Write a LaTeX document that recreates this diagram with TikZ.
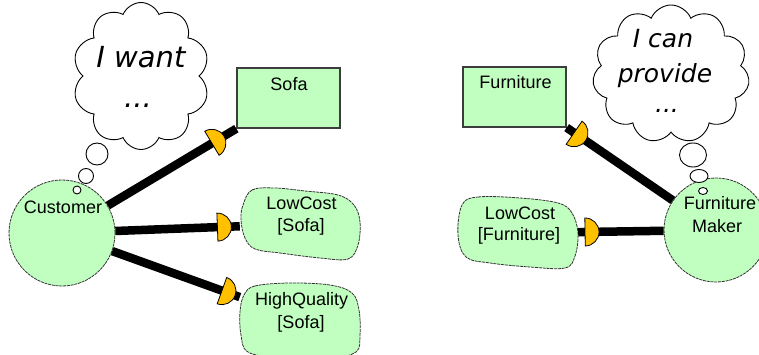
\documentclass[tikz,border=0pt]{standalone}
\usepackage{fontspec}
\newfontfamily\labfont{Liberation Sans}
\newfontfamily\thfont{DejaVu Sans}
\usetikzlibrary{shapes.geometric,shapes.symbols}
\definecolor{agreen}{RGB}{192,255,192}
\definecolor{discy}{RGB}{255,192,0}
\definecolor{edgegray}{RGB}{60,60,60}
\tikzset{
 actor/.style={circle, fill=agreen, draw=black!80, line width=0.8pt, dash pattern=on 3pt off 0.8pt, inner sep=0pt},
 resbox/.style={rectangle, fill=agreen, draw=edgegray, line width=1.3pt, inner sep=0pt, minimum width=103pt, minimum height=60pt},
 goalarea/.style={rectangle, inner sep=0pt, minimum width=120pt, minimum height=72pt},
 blob/.style={fill=agreen, draw=black!80, line width=0.8pt, dash pattern=on 3pt off 0.8pt},
 lab/.style={font=\labfont\fontsize{18}{22}\selectfont, anchor=base, inner sep=0pt, text=black},
 thoughtbig/.style={font=\thfont\itshape\fontsize{29}{34}\selectfont, anchor=base, inner sep=0pt},
 thoughtsm/.style={font=\thfont\itshape\fontsize{25}{30}\selectfont, anchor=base, inner sep=0pt},
 thcloud/.style={cloud, draw=black, fill=white, line width=0.9pt, cloud ignores aspect, cloud puff arc=135, inner sep=0pt},
 bubble/.style={ellipse, draw=black, fill=white, line width=0.9pt, inner sep=0pt},
 conn/.style={line width=8.5pt, black},
 halfdisc/.pic={\draw[fill=discy, draw=black, line width=0.8pt, solid] (0pt,-14pt) arc[start angle=-90, end angle=90, radius=14pt] -- cycle;}
}
\begin{document}
\begin{tikzpicture}[x=1pt,y=-1pt]
\useasboundingbox (0,0) rectangle (759,355);
\clip (0,0) rectangle (759,355);
% thought clouds
\node[thcloud, cloud puffs=10, minimum width=137pt, minimum height=147pt] (cloudL) at (141,76) {};
\node[thcloud, cloud puffs=11, minimum width=157pt, minimum height=138pt] (cloudR) at (671,74) {};
% actors
\node[actor, minimum size=106pt] (cust) at (62,233) {};
\node[actor, minimum size=104pt] (maker) at (716,230) {};
% thought bubbles
\node[bubble, minimum width=22pt, minimum height=22pt] (bL1) at (97,154) {};
\node[bubble, minimum width=15pt, minimum height=15pt] (bL2) at (86,176) {};
\node[bubble, minimum width=8pt, minimum height=8pt] (bL3) at (77,190) {};
\node[bubble, minimum width=27pt, minimum height=24pt] (bR1) at (693,155) {};
\node[bubble, minimum width=18pt, minimum height=13pt] (bR2) at (699,176) {};
\node[bubble, minimum width=9pt, minimum height=7pt] (bR3) at (703,191) {};
% resources
\node[resbox] (sofa) at (288.5,98) {};
\node[resbox] (furn) at (514.5,97) {};
% softgoal areas
\node[goalarea] (lcs) at (300,224) {};
\node[goalarea] (hq) at (300,319) {};
\node[goalarea, minimum height=73pt] (lcf) at (518,233) {};
\draw[blob] plot[smooth cycle, tension=0.6] coordinates {(243,205) (252,190) (275,188) (305,191) (338,195) (354,205) (360,222) (358,245) (348,259) (320,258) (280,253) (255,249) (245,238) (241,220)};
\draw[blob] plot[smooth cycle, tension=0.6] coordinates {(244,295) (255,286) (290,283) (330,285) (352,293) (359,310) (360,335) (356,352) (330,358) (280,358) (248,352) (241,335) (240,312)};
\draw[blob] plot[smooth cycle, tension=0.6] coordinates {(462,205) (478,197) (520,198) (558,203) (572,213) (578,233) (575,256) (565,268) (530,267) (490,263) (466,257) (458,235)};
% connectors
\draw[conn] (cust) -- (sofa.south west);
\draw[conn] (cust) -- (lcs);
\draw[conn] (cust) -- (hq.160);
\draw[conn] (lcf) -- (maker);
\draw[conn] (furn.south east) -- (maker);
% dependency marks
\path (cust) -- pic[pos=0.81, sloped, allow upside down]{halfdisc} (sofa.south west);
\path (cust) -- pic[pos=0.82, sloped, allow upside down]{halfdisc} (lcs);
\path (cust) -- pic[pos=0.86, sloped, allow upside down]{halfdisc} (hq.160);
\path (lcf) -- pic[pos=0.08, sloped, allow upside down]{halfdisc} (maker);
\path (furn.south east) -- pic[pos=0.07, sloped, allow upside down]{halfdisc} (maker);
% texts
\node[thoughtbig] (tL1) at (141,68) {I want};
\node[thoughtbig] (tL2) at (138,108) {...};
\node[thoughtsm] (tR1) at (663,48) {I can};
\node[thoughtsm] (tR2) at (665,83) {provide};
\node[thoughtsm] (tR3) at (667,113) {...};
\node[lab] (custt) at (63,214) {Customer};
\node[lab] (makert1) at (720,210) {Furniture};
\node[lab] (makert2) at (717,233) {Maker};
\node[lab] (sofat) at (289,91) {Sofa};
\node[lab] (furnt) at (515.5,89) {Furniture};
\node[lab] (lcst1) at (301.5,210) {LowCost};
\node[lab] (lcst2) at (301,231) {[Sofa]};
\node[lab] (hqt1) at (301.7,305) {HighQuality};
\node[lab] (hqt2) at (301,328) {[Sofa]};
\node[lab] (lcft1) at (520,219) {LowCost};
\node[lab] (lcft2) at (519,240) {[Furniture]};
\end{tikzpicture}
\end{document}
